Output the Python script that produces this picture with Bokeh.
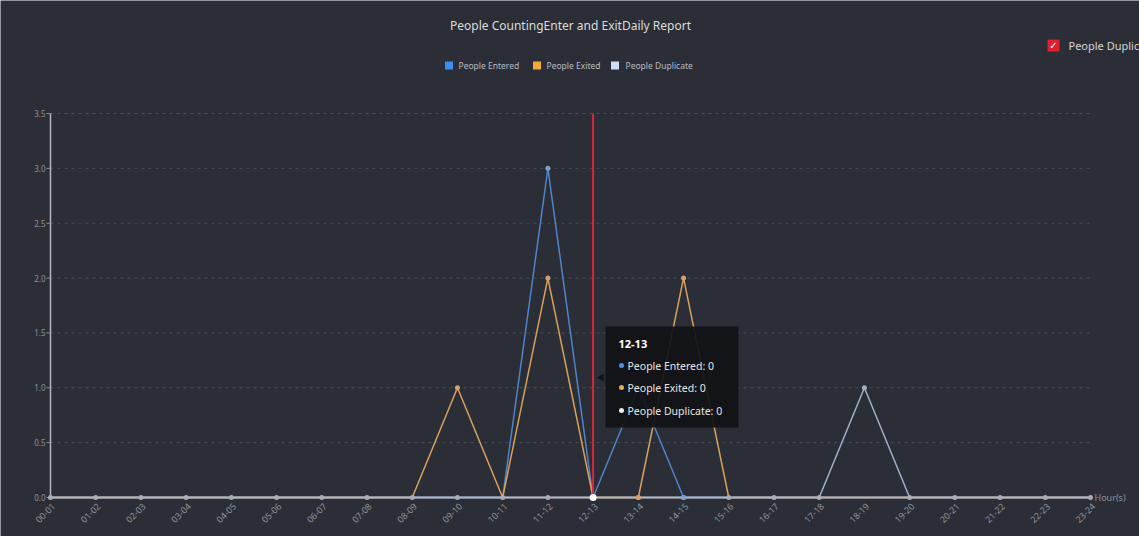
import numpy as np
from bokeh.plotting import figure
from bokeh.models import Range1d
from bokeh.core.properties import value
from bokeh.embed import file_html
from bokeh.resources import INLINE

# ---------------- data ----------------
hours = ["00-01", "01-02", "02-03", "03-04", "04-05", "05-06", "06-07", "07-08",
         "08-09", "09-10", "10-11", "11-12", "12-13", "13-14", "14-15", "15-16",
         "16-17", "17-18", "18-19", "19-20", "20-21", "21-22", "22-23", "23-24"]
entered = [0, 0, 0, 0, 0, 0, 0, 0, 0, 0, 0, 3, 0, 1, 0, 0, 0, 0, 0, 0, 0, 0, 0, 0]
exited = [0, 0, 0, 0, 0, 0, 0, 0, 0, 1, 0, 2, 0, 0, 2, 0, 0, 0, 0, 0, 0, 0, 0, 0]
duplicate = [0, 0, 0, 0, 0, 0, 0, 0, 0, 0, 0, 0, 0, 0, 0, 0, 0, 0, 1, 0, 0, 0, 0, 0]
y_ticks = [0.0, 0.5, 1.0, 1.5, 2.0, 2.5, 3.0, 3.5]
series_names = ["People Entered", "People Exited", "People Duplicate"]
title_text = "People CountingEnter and ExitDaily Report"
x_title = "Hour(s)"
hover_idx = 12

# ---------------- style ----------------
BG = "#2b2e36"
C_ENT = "#4f84c8"
C_EXI = "#d9a15c"
C_DUP = "#9fb0cc"
LEG_ENT = "#3d8ef0"
LEG_EXI = "#f2aa35"
LEG_DUP = "#cfe0f6"
FONT = value("Noto Sans")
TICK_C = "#8d929b"
W, H = 1139, 536

# layout helpers (picture pixel -> data coordinate)
DX = 1040 / 23.0
DY = 384 / 3.5


def fx(px):
    return (px - 50) / DX


def fy(py):
    return (497 - py) / DY


xs = list(range(len(hours)))
x_lo, x_hi = xs[0], xs[-1]
y_lo, y_hi = y_ticks[0], y_ticks[-1]

p = figure(width=W, height=H, output_backend="svg", toolbar_location=None,
           x_range=Range1d(fx(0), fx(W)), y_range=Range1d(fy(H), fy(0)),
           min_border=0)
p.background_fill_color = BG
p.border_fill_color = BG
p.outline_line_color = None
p.axis.visible = False
p.grid.visible = False

# grid lines (dashed)
g_y = [v for v in y_ticks if v > 0]
p.segment(x0=[x_lo] * len(g_y), y0=g_y, x1=[x_hi] * len(g_y), y1=g_y,
          line_color="#4a4e57", line_dash="3 4", line_width=1)

# axes
p.segment(x0=[x_lo], y0=[y_lo], x1=[x_lo], y1=[y_hi], line_color="#b4b8c0",
          line_width=1.5)
p.segment(x0=[fx(46)] * len(y_ticks), y0=y_ticks, x1=[x_lo] * len(y_ticks),
          y1=y_ticks, line_color="#8d929b", line_width=1)
p.text(x=[fx(45)] * len(y_ticks), y=y_ticks, text=[f"{v:.1f}" for v in y_ticks],
       text_color=TICK_C, text_font=FONT, text_font_size="8px",
       text_align="right", text_baseline="middle")
p.text(x=xs, y=[y_lo] * len(xs), text=hours, angle=np.pi / 4, x_offset=3,
       y_offset=7, text_color=TICK_C, text_font=FONT, text_font_size="9px",
       text_align="right", text_baseline="middle")
p.text(x=[fx(1094)], y=[y_lo], text=[x_title], text_color=TICK_C, text_font=FONT,
       text_font_size="9px", text_baseline="middle")

# series
p.line(xs, duplicate, line_color=C_DUP, line_width=1.5)
p.line(xs, entered, line_color=C_ENT, line_width=1.5)
p.line(xs, exited, line_color=C_EXI, line_width=1.5)
p.segment(x0=[x_lo], y0=[y_lo], x1=[x_hi], y1=[y_lo], line_color="#b4b8c0",
          line_width=2)
p.scatter(xs, duplicate, size=5, fill_color="#a9adb6", line_color=None)
p.scatter([x for x, v in zip(xs, entered) if v > 0 or x in (14,)],
          [v for x, v in zip(xs, entered) if v > 0 or x in (14,)],
          size=5, fill_color="#7f9fcc", line_color=None)
p.scatter([x for x, v in zip(xs, exited) if v > 0 or x in (13,)],
          [v for x, v in zip(xs, exited) if v > 0 or x in (13,)],
          size=5, fill_color="#d6a06a", line_color=None)

# hover crosshair + highlighted point
p.segment(x0=[xs[hover_idx]], y0=[y_lo], x1=[xs[hover_idx]], y1=[y_hi],
          line_color="#d8283a", line_width=2)
p.scatter([xs[hover_idx]], [duplicate[hover_idx]], size=7, fill_color="white",
          line_color=None)

# tooltip
TIP = "#111214"
p.quad(left=[fx(605)], right=[fx(738)], top=[fy(326)], bottom=[fy(427)],
       fill_color=TIP, fill_alpha=0.93, line_color=None)
p.scatter([fx(601)], [fy(377)], marker="triangle", angle=np.pi / 2, size=8,
          fill_color=TIP, fill_alpha=0.93, line_color=None)
p.text(x=[fx(618)], y=[fy(343)], text=[hours[hover_idx]], text_color="white",
       text_font=FONT, text_font_size="11px", text_font_style="bold",
       text_baseline="middle")
tip_vals = [entered[hover_idx], exited[hover_idx], duplicate[hover_idx]]
tip_cols = ["#4d8ee0", "#e2ad4e", "#e8eef8"]
tip_ys = [fy(365), fy(387), fy(410)]
p.scatter([fx(621)] * 3, tip_ys, size=5, fill_color=tip_cols, line_color=None)
p.text(x=[fx(627)] * 3, y=tip_ys,
       text=[f"{n}: {v}" for n, v in zip(series_names, tip_vals)],
       text_color="#e6e6e6", text_font=FONT, text_font_size="10.5px",
       text_baseline="middle")

# title
p.text(x=[fx(570)], y=[fy(25)], text=[title_text], text_color="#dcdcdc",
       text_font=FONT, text_font_size="12px", text_align="center",
       text_baseline="middle")

# legend
leg_cols = [LEG_ENT, LEG_EXI, LEG_DUP]
leg_sq_x = [448.5, 536.5, 614.5]
leg_tx_x = [458, 546, 625]
p.scatter([fx(v) for v in leg_sq_x], [fy(65)] * 3, marker="square", size=8,
          fill_color=leg_cols, line_color=None)
p.text(x=[fx(v) for v in leg_tx_x], y=[fy(65)] * 3, text=series_names,
       text_color="#b8bcc4", text_font=FONT, text_font_size="8.5px",
       text_baseline="middle")

# checkbox legend (top right)
p.scatter([fx(1053)], [fy(45)], marker="square", size=12, fill_color="#e0202e",
          line_color=None)
p.text(x=[fx(1053)], y=[fy(45)], text=["\u2713"], text_color="white",
       text_font=value("DejaVu Sans"), text_font_size="10px", text_align="center",
       text_baseline="middle")
p.text(x=[fx(1068)], y=[fy(45)], text=[series_names[2]], text_color="#d6d6d6",
       text_font=FONT, text_font_size="11px", text_baseline="middle")

open("out.html", "w").write(file_html(p, INLINE))
